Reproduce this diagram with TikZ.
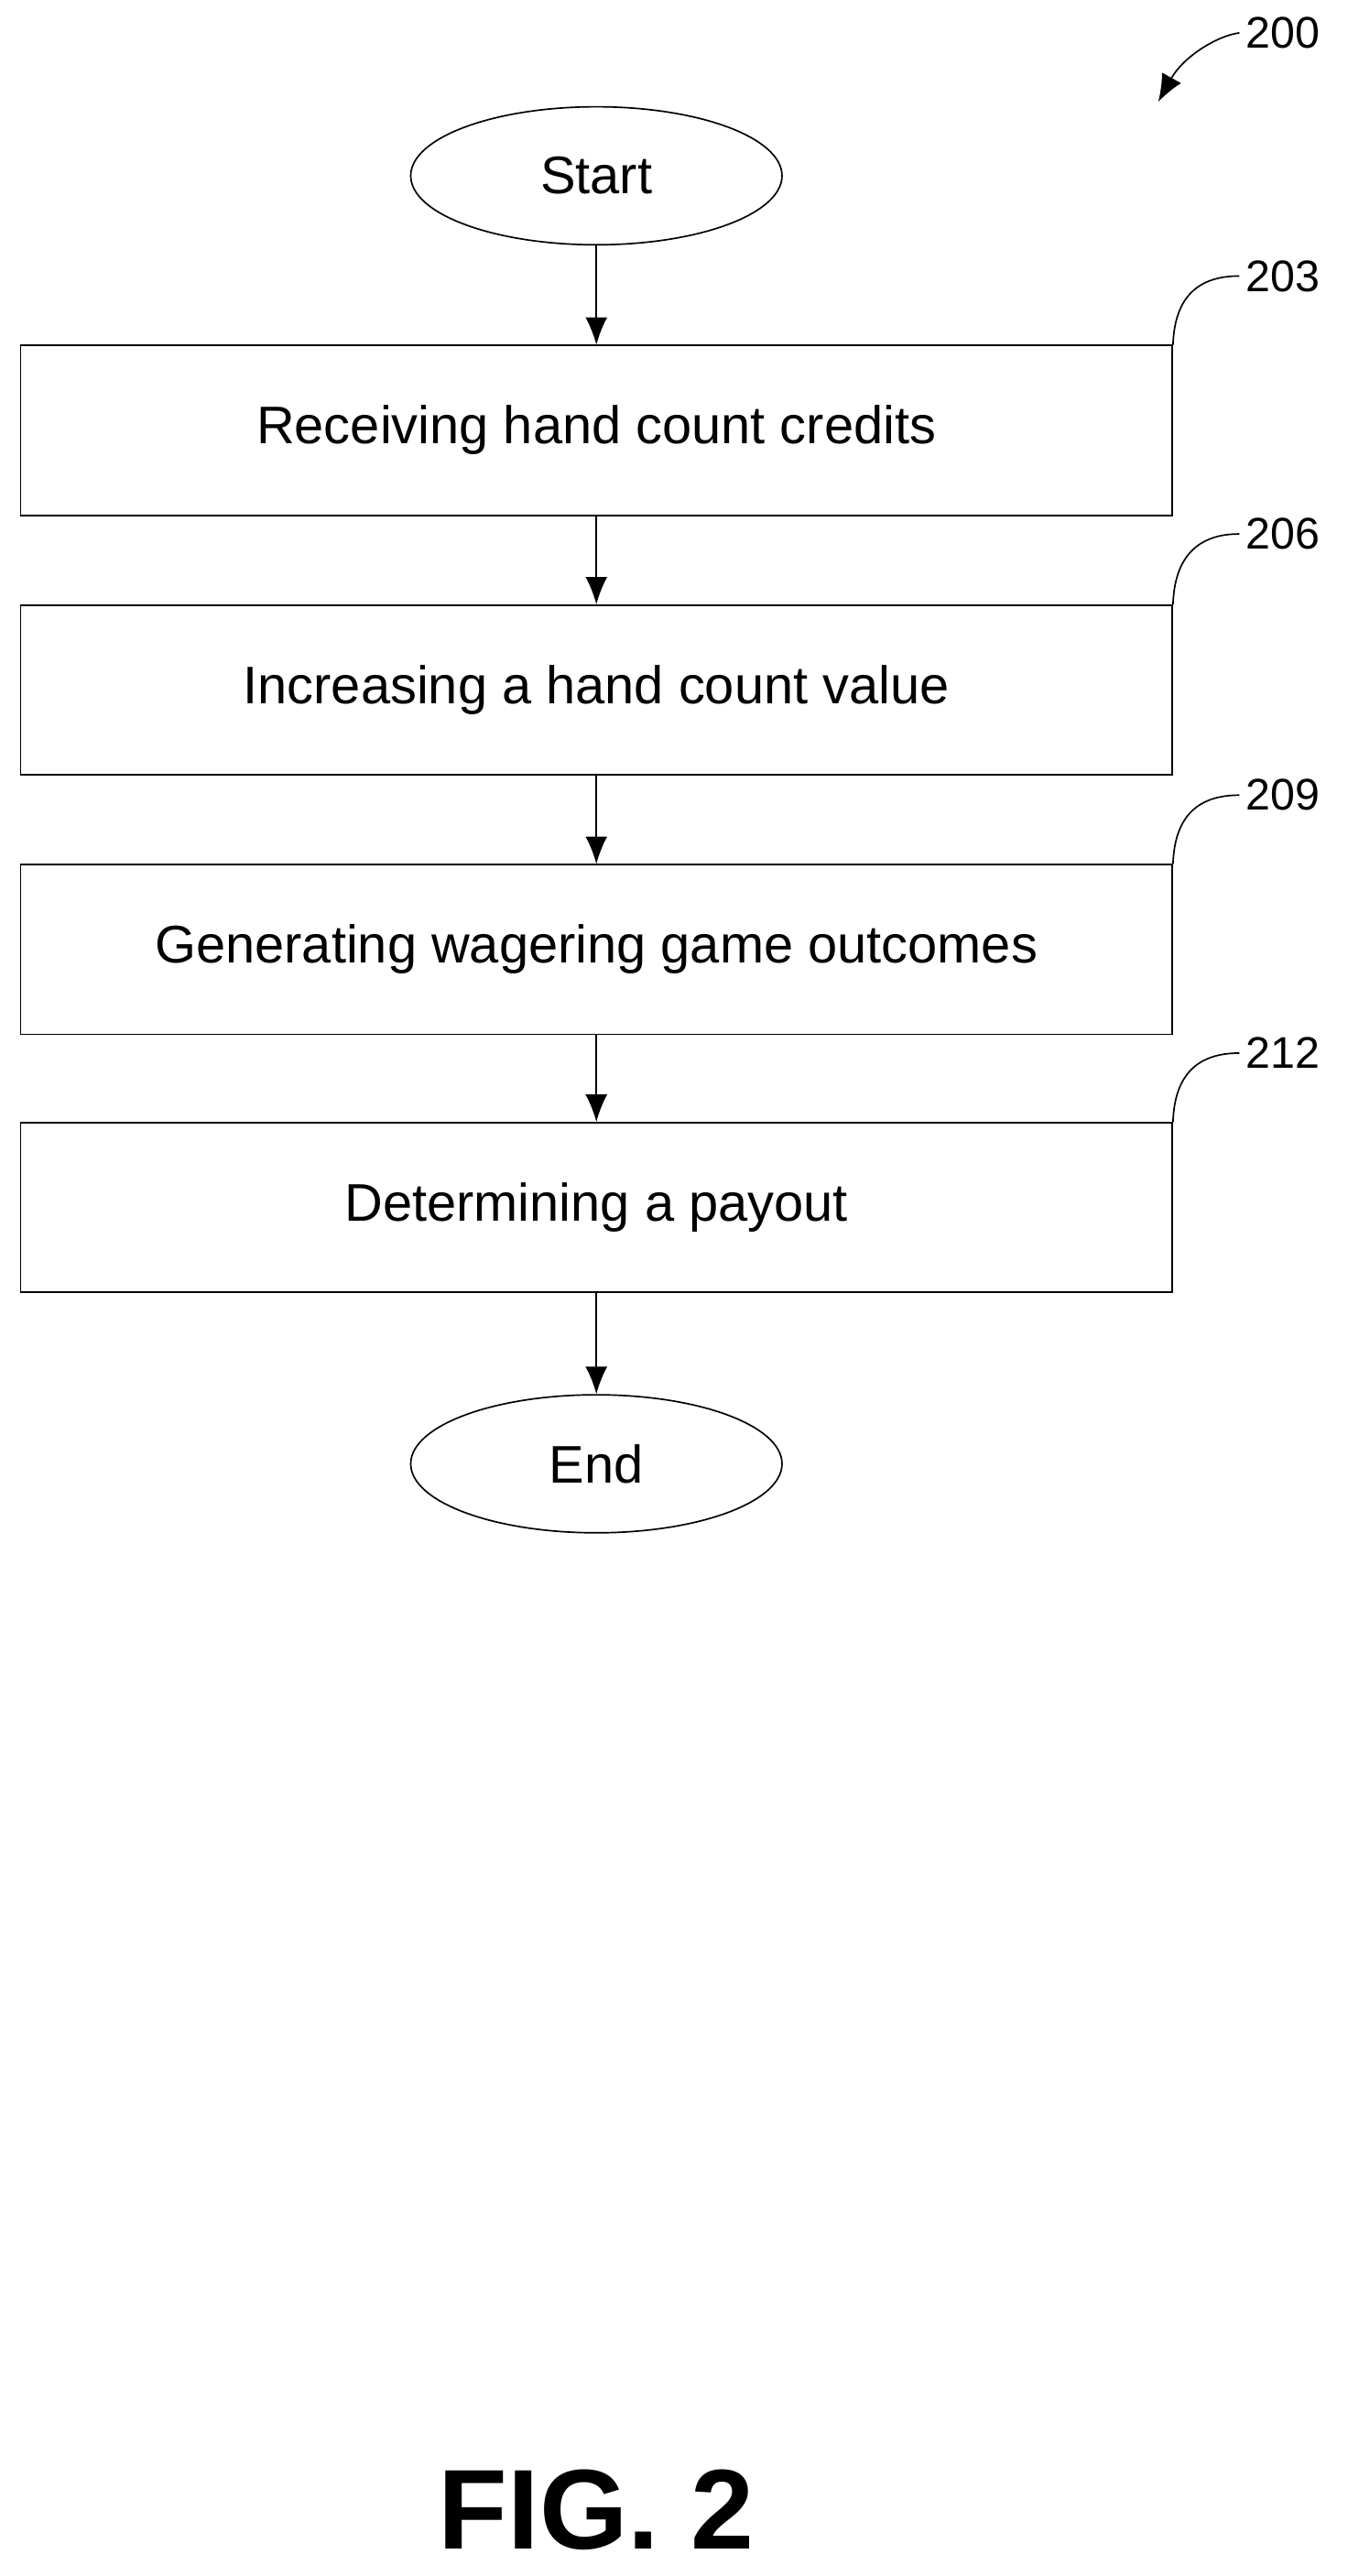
\documentclass[tikz,border=0pt]{standalone}
\usepackage{fontspec}
\setmainfont{Liberation Sans}
\usetikzlibrary{shapes.geometric,positioning,arrows.meta}
\tikzset{
  procbox/.style={draw,thick,minimum width=21.03cm,minimum height=3.1cm,font=\fontsize{27.5}{32}\selectfont},
  term/.style={draw,thick,ellipse,minimum width=6.78cm,minimum height=2.52cm,font=\fontsize{27.5}{32}\selectfont},
  flow/.style={thick,-{Latex[length=0.5cm,width=0.4cm]}},
  lbl/.style={font=\fontsize{23}{27}\selectfont}
}
\begin{document}
\begin{tikzpicture}[x=0.03cm,y=-0.03cm]
\useasboundingbox (0,0) rectangle (820,1568);

\node[term] (start) at (363,107) {Start};
\node[procbox] (recv) at (363,262) {Receiving hand count credits};
\node[procbox] (incr) at (363,420) {Increasing a hand count value};
\node[procbox] (gen) at (363,578) {Generating wagering game outcomes};
\node[procbox] (pay) at (363,735) {Determining a payout};
\node[term] (end) at (363,891) {End};

\draw[flow] (start) -- (recv);
\draw[flow] (recv) -- (incr);
\draw[flow] (incr) -- (gen);
\draw[flow] (gen) -- (pay);
\draw[flow] (pay) -- (end);

% reference numerals
\node[lbl] (n203) at (781,168) {203};
\node[lbl] (n206) at (781,325) {206};
\node[lbl] (n209) at (781,484) {209};
\node[lbl] (n212) at (781,641) {212};
\draw[thick] (recv.north east) .. controls (715,180) and (730,168) .. (n203.west);
\draw[thick] (incr.north east) .. controls (715,338) and (730,325) .. (n206.west);
\draw[thick] (gen.north east) .. controls (715,496) and (730,484) .. (n209.west);
\draw[thick] (pay.north east) .. controls (715,653) and (730,641) .. (n212.west);

\node[lbl] (n200) at (781,20) {200};
\coordinate (a200) at (705,62);
\draw[flow] (n200.west) .. controls (740,22) and (720,35) .. (a200);

\node[font=\bfseries\fontsize{59}{66}\selectfont] (fig) at (363,1528) {FIG. 2};
\end{tikzpicture}
\end{document}
